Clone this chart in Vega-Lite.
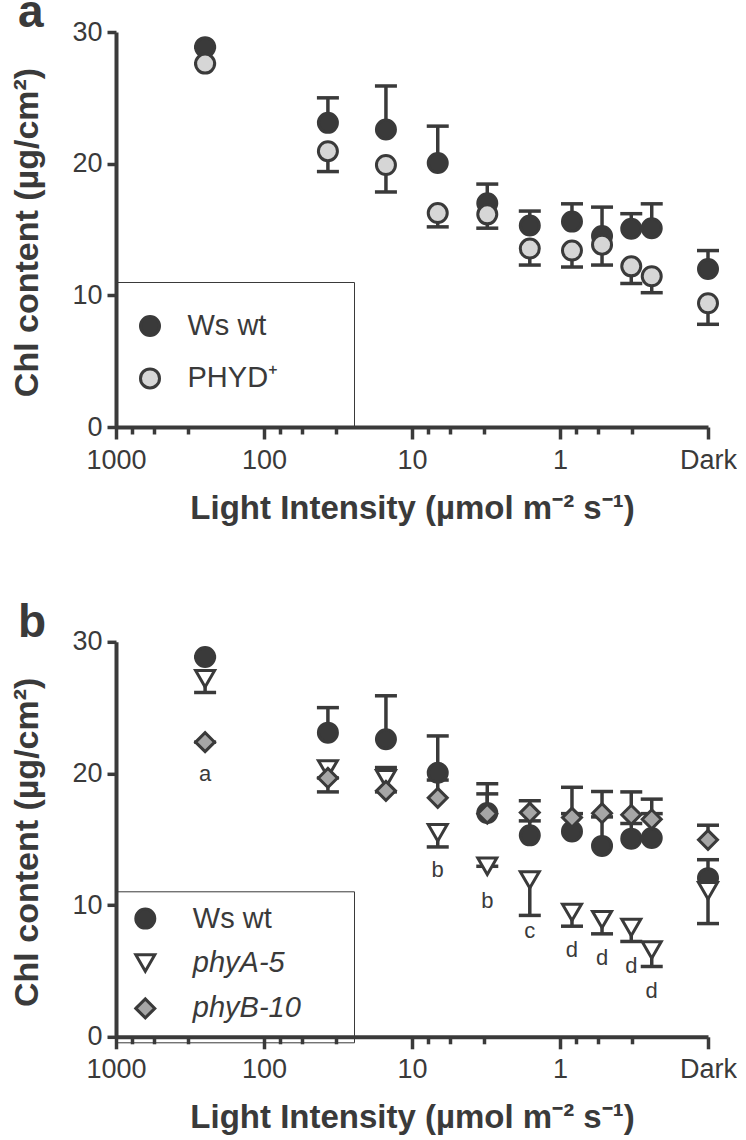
{
  "$schema": "https://vega.github.io/schema/vega-lite/v6.json",
  "background": "white",
  "padding": {"left": 9, "top": -10, "right": 0, "bottom": 0},
  "spacing": 73.8,
  "datasets": {
    "a": [
      {"series": "Ws wt", "intensity": 250, "chl": 28.85, "err_end": 28.85},
      {"series": "Ws wt", "intensity": 37, "chl": 23.1, "err_end": 25.0},
      {"series": "Ws wt", "intensity": 15, "chl": 22.6, "err_end": 25.9},
      {"series": "Ws wt", "intensity": 6.7, "chl": 20.05, "err_end": 22.85},
      {"series": "Ws wt", "intensity": 3.1, "chl": 17.0, "err_end": 18.45},
      {"series": "Ws wt", "intensity": 1.6, "chl": 15.3, "err_end": 16.4},
      {"series": "Ws wt", "intensity": 0.83, "chl": 15.6, "err_end": 16.95},
      {"series": "Ws wt", "intensity": 0.52, "chl": 14.5, "err_end": 16.7},
      {"series": "Ws wt", "intensity": 0.33, "chl": 15.05, "err_end": 16.2},
      {"series": "Ws wt", "intensity": 0.24, "chl": 15.1, "err_end": 16.95},
      {"series": "Ws wt", "intensity": 0.1, "chl": 12.0, "err_end": 13.4},
      {"series": "PHYD⁺", "intensity": 250, "chl": 27.6, "err_end": 27.6},
      {"series": "PHYD⁺", "intensity": 37, "chl": 20.95, "err_end": 19.4},
      {"series": "PHYD⁺", "intensity": 15, "chl": 19.9, "err_end": 17.85},
      {"series": "PHYD⁺", "intensity": 6.7, "chl": 16.25, "err_end": 15.2},
      {"series": "PHYD⁺", "intensity": 3.1, "chl": 16.15, "err_end": 15.1},
      {"series": "PHYD⁺", "intensity": 1.6, "chl": 13.55, "err_end": 12.3},
      {"series": "PHYD⁺", "intensity": 0.83, "chl": 13.4, "err_end": 12.15},
      {"series": "PHYD⁺", "intensity": 0.52, "chl": 13.85, "err_end": 12.3},
      {"series": "PHYD⁺", "intensity": 0.33, "chl": 12.2, "err_end": 10.9},
      {"series": "PHYD⁺", "intensity": 0.24, "chl": 11.45, "err_end": 10.2},
      {"series": "PHYD⁺", "intensity": 0.1, "chl": 9.4, "err_end": 7.8}
    ],
    "b": [
      {"series": "Ws wt", "intensity": 250, "chl": 28.85, "err_end": 28.85},
      {"series": "Ws wt", "intensity": 37, "chl": 23.1, "err_end": 25.0},
      {"series": "Ws wt", "intensity": 15, "chl": 22.6, "err_end": 25.9},
      {"series": "Ws wt", "intensity": 6.7, "chl": 20.05, "err_end": 22.85},
      {"series": "Ws wt", "intensity": 3.1, "chl": 17.0, "err_end": 18.45},
      {"series": "Ws wt", "intensity": 1.6, "chl": 15.3, "err_end": 16.4},
      {"series": "Ws wt", "intensity": 0.83, "chl": 15.6, "err_end": 16.95},
      {"series": "Ws wt", "intensity": 0.52, "chl": 14.5, "err_end": 16.7},
      {"series": "Ws wt", "intensity": 0.33, "chl": 15.05, "err_end": 16.2},
      {"series": "Ws wt", "intensity": 0.24, "chl": 15.1, "err_end": 16.95},
      {"series": "Ws wt", "intensity": 0.1, "chl": 12.05, "err_end": 13.45},
      {"series": "phyA-5", "intensity": 250, "chl": 27.2, "err_end": 26.15},
      {"series": "phyA-5", "intensity": 37, "chl": 20.35, "err_end": 18.6},
      {"series": "phyA-5", "intensity": 15, "chl": 19.6, "err_end": 18.6},
      {"series": "phyA-5", "intensity": 6.7, "chl": 15.5, "err_end": 14.42},
      {"series": "phyA-5", "intensity": 3.1, "chl": 12.95, "err_end": 12.95},
      {"series": "phyA-5", "intensity": 1.6, "chl": 11.92, "err_end": 9.22},
      {"series": "phyA-5", "intensity": 0.83, "chl": 9.45, "err_end": 8.4},
      {"series": "phyA-5", "intensity": 0.52, "chl": 8.9, "err_end": 7.82},
      {"series": "phyA-5", "intensity": 0.33, "chl": 8.3, "err_end": 7.24},
      {"series": "phyA-5", "intensity": 0.24, "chl": 6.6, "err_end": 5.34},
      {"series": "phyA-5", "intensity": 0.1, "chl": 11.1, "err_end": 8.6},
      {"series": "phyB-10", "intensity": 250, "chl": 22.38, "err_end": 22.38},
      {"series": "phyB-10", "intensity": 37, "chl": 19.66, "err_end": 19.66},
      {"series": "phyB-10", "intensity": 15, "chl": 18.68, "err_end": 20.45},
      {"series": "phyB-10", "intensity": 6.7, "chl": 18.15, "err_end": 19.5},
      {"series": "phyB-10", "intensity": 3.1, "chl": 16.95, "err_end": 19.22},
      {"series": "phyB-10", "intensity": 1.6, "chl": 17.03, "err_end": 17.93},
      {"series": "phyB-10", "intensity": 0.83, "chl": 16.65, "err_end": 18.95},
      {"series": "phyB-10", "intensity": 0.52, "chl": 16.98, "err_end": 18.63},
      {"series": "phyB-10", "intensity": 0.33, "chl": 16.86, "err_end": 18.6},
      {"series": "phyB-10", "intensity": 0.24, "chl": 16.52, "err_end": 18.05},
      {"series": "phyB-10", "intensity": 0.1, "chl": 14.96, "err_end": 16.07}
    ],
    "letters": [
      {"intensity": 250, "letter_y": 19.4, "letter": "a"},
      {"intensity": 6.7, "letter_y": 12.17, "letter": "b"},
      {"intensity": 3.1, "letter_y": 9.8, "letter": "b"},
      {"intensity": 1.6, "letter_y": 7.52, "letter": "c"},
      {"intensity": 0.83, "letter_y": 6.05, "letter": "d"},
      {"intensity": 0.52, "letter_y": 5.45, "letter": "d"},
      {"intensity": 0.33, "letter_y": 4.85, "letter": "d"},
      {"intensity": 0.24, "letter_y": 2.98, "letter": "d"}
    ]
  },
  "config": {
    "view": {"stroke": null},
    "font": "Liberation Sans",
    "axis": {
      "grid": false,
      "domainColor": "#3a3a3a",
      "tickColor": "#3a3a3a",
      "labelColor": "#3a3a3a",
      "titleColor": "#3a3a3a",
      "labelFont": "Liberation Sans",
      "titleFont": "Liberation Sans",
      "labelFontSize": 27,
      "domainWidth": 4,
      "tickWidth": 3.5
    },
    "legend": {
      "labelFont": "Liberation Sans",
      "labelFontSize": 29,
      "labelColor": "#3a3a3a",
      "symbolOpacity": 1,
      "strokeColor": "#3a3a3a",
      "labelLimit": 400,
      "titleFontSize": 3,
      "titlePadding": 2,
      "titleOrient": "bottom"
    }
  },
  "resolve": {"scale": {"shape": "independent", "fill": "independent", "size": "independent", "stroke": "independent"}},
  "vconcat": [
    {
      "width": 592,
      "height": 395,
      "title": {"text": "a", "anchor": "start", "frame": "group", "fontSize": 46, "fontWeight": "bold", "color": "#3a3a3a", "baseline": "alphabetic", "dx": -98, "dy": 55, "offset": 0},
      "data": {"name": "a"},
      "encoding": {
        "x": {
          "field": "intensity", "type": "quantitative",
          "scale": {"type": "log", "domain": [0.1, 1000], "reverse": true, "nice": false},
          "axis": {
            "values": [1000, 775, 550, 325, 100, 77.5, 55, 32.5, 10, 7.75, 5.5, 3.25, 1, 0.775, 0.55, 0.325, 0.1],
            "labelExpr": "datum.value == 1000 ? '1000' : datum.value == 100 ? '100' : datum.value == 10 ? '10' : datum.value == 1 ? '1' : datum.value == 0.1 ? 'Dark' : ''",
            "tickSize": {"condition": {"test": "indexof([1000, 100, 10, 1, 0.1], datum.value) >= 0", "value": 12}, "value": 7},
            "labelPadding": 8, "labelBaseline": "top", "labelFlush": false, "labelOverlap": false, "labelBound": false,
            "title": "Light Intensity (µmol m⁻² s⁻¹)", "titleFontSize": 33, "titleFontWeight": "bold", "titleY": 91, "titleBaseline": "alphabetic"
          }
        }
      },
      "layer": [
        {
          "mark": {"type": "rule", "strokeWidth": 3.5, "color": "#3a3a3a"},
          "encoding": {
            "y": {"field": "chl", "type": "quantitative", "title": "Chl content (µg/cm²)", "scale": {"domain": [0, 30], "nice": false}},
            "y2": {"field": "err_end"}
          }
        },
        {
          "mark": {"type": "tick", "orient": "horizontal", "thickness": 3.5, "size": 22, "color": "#3a3a3a", "opacity": 1},
          "encoding": {
            "y": {"field": "err_end", "type": "quantitative", "title": "Chl content (µg/cm²)"}
          }
        },
        {
          "mark": {"type": "point", "filled": true, "opacity": 1, "strokeWidth": 3},
          "encoding": {
            "y": {
              "field": "chl", "type": "quantitative", "title": "Chl content (µg/cm²)",
              "axis": {"values": [0, 10, 20, 30], "tickSize": 9, "labelPadding": 5, "titleFontSize": 34, "titleFontWeight": "bold", "titleX": -79, "titleY": 200, "titleAngle": 270, "titleBaseline": "alphabetic", "titleAlign": "center"}
            },
            "shape": {"field": "series", "type": "nominal", "scale": {"domain": ["Ws wt", "PHYD⁺"], "range": ["circle", "circle"]},
              "legend": {"orient": "none", "legendX": 0, "legendY": 250, "title": "\u00a0", "padding": 29.5, "rowPadding": 21.4, "labelOffset": 23, "symbolOffset": -10, "symbolStrokeWidth": 3, "labelExpr": "datum.label + '\u00a0\u00a0\u00a0\u00a0\u00a0\u2009\u200b'"}},
            "fill": {"field": "series", "type": "nominal", "scale": {"domain": ["Ws wt", "PHYD⁺"], "range": ["#3a3a3a", "#d6d6d6"]},
              "legend": {"orient": "none", "legendX": 0, "legendY": 250, "title": "\u00a0", "padding": 29.5, "rowPadding": 21.4, "labelOffset": 23, "symbolOffset": -10, "symbolStrokeWidth": 3, "labelExpr": "datum.label + '\u00a0\u00a0\u00a0\u00a0\u00a0\u2009\u200b'"}},
            "stroke": {"field": "series", "type": "nominal", "scale": {"domain": ["Ws wt", "PHYD⁺"], "range": ["#3a3a3a", "#3a3a3a"]},
              "legend": {"orient": "none", "legendX": 0, "legendY": 250, "title": "\u00a0", "padding": 29.5, "rowPadding": 21.4, "labelOffset": 23, "symbolOffset": -10, "symbolStrokeWidth": 3, "labelExpr": "datum.label + '\u00a0\u00a0\u00a0\u00a0\u00a0\u2009\u200b'"}},
            "size": {"field": "series", "type": "nominal", "scale": {"domain": ["Ws wt", "PHYD⁺"], "range": [361, 361]},
              "legend": {"orient": "none", "legendX": 0, "legendY": 250, "title": "\u00a0", "padding": 29.5, "rowPadding": 21.4, "labelOffset": 23, "symbolOffset": -10, "symbolStrokeWidth": 3, "labelExpr": "datum.label + '\u00a0\u00a0\u00a0\u00a0\u00a0\u2009\u200b'"}}
          }
        }
      ]
    },
    {
      "width": 592,
      "height": 395,
      "title": {"text": "b", "anchor": "start", "frame": "group", "fontSize": 46, "fontWeight": "bold", "color": "#3a3a3a", "baseline": "alphabetic", "dx": -98, "dy": 54.8, "offset": 0},
      "data": {"name": "b"},
      "encoding": {
        "x": {
          "field": "intensity", "type": "quantitative",
          "scale": {"type": "log", "domain": [0.1, 1000], "reverse": true, "nice": false},
          "axis": {
            "values": [1000, 775, 550, 325, 100, 77.5, 55, 32.5, 10, 7.75, 5.5, 3.25, 1, 0.775, 0.55, 0.325, 0.1],
            "labelExpr": "datum.value == 1000 ? '1000' : datum.value == 100 ? '100' : datum.value == 10 ? '10' : datum.value == 1 ? '1' : datum.value == 0.1 ? 'Dark' : ''",
            "tickSize": {"condition": {"test": "indexof([1000, 100, 10, 1, 0.1], datum.value) >= 0", "value": 12}, "value": 7},
            "labelPadding": 8, "labelBaseline": "top", "labelFlush": false, "labelOverlap": false, "labelBound": false,
            "title": "Light Intensity (µmol m⁻² s⁻¹)", "titleFontSize": 33, "titleFontWeight": "bold", "titleY": 91, "titleBaseline": "alphabetic"
          }
        }
      },
      "layer": [
        {
          "mark": {"type": "rule", "strokeWidth": 3.5, "color": "#3a3a3a"},
          "encoding": {
            "y": {"field": "chl", "type": "quantitative", "title": "Chl content (µg/cm²)", "scale": {"domain": [0, 30], "nice": false}},
            "y2": {"field": "err_end"}
          }
        },
        {
          "mark": {"type": "tick", "orient": "horizontal", "thickness": 3.5, "size": 22, "color": "#3a3a3a", "opacity": 1},
          "encoding": {
            "y": {"field": "err_end", "type": "quantitative", "title": "Chl content (µg/cm²)"}
          }
        },
        {
          "mark": {"type": "point", "filled": true, "opacity": 1, "strokeWidth": 3},
          "encoding": {
            "y": {
              "field": "chl", "type": "quantitative", "title": "Chl content (µg/cm²)",
              "axis": {"values": [0, 10, 20, 30], "tickSize": 9, "labelPadding": 5, "titleFontSize": 34, "titleFontWeight": "bold", "titleX": -79, "titleY": 200, "titleAngle": 270, "titleBaseline": "alphabetic", "titleAlign": "center"}
            },
            "shape": {"field": "series", "type": "nominal", "scale": {"domain": ["Ws wt", "phyA-5", "phyB-10"], "range": ["circle", "triangle-down", "diamond"]},
              "legend": {"orient": "none", "legendX": 0, "legendY": 249.5, "title": "\u00a0", "padding": 12.8, "rowPadding": 14.4, "labelOffset": 33, "symbolOffset": 2, "symbolStrokeWidth": 3, "labelExpr": "datum.label + '\u00a0\u00a0\u00a0\u00a0\u00a0\u200b'", "labelFontStyle": {"expr": "datum.label == 'Ws wt' ? 'normal' : 'italic'"}}},
            "fill": {"field": "series", "type": "nominal", "scale": {"domain": ["Ws wt", "phyA-5", "phyB-10"], "range": ["#3a3a3a", "#ffffff", "#a6a6a6"]},
              "legend": {"orient": "none", "legendX": 0, "legendY": 249.5, "title": "\u00a0", "padding": 12.8, "rowPadding": 14.4, "labelOffset": 33, "symbolOffset": 2, "symbolStrokeWidth": 3, "labelExpr": "datum.label + '\u00a0\u00a0\u00a0\u00a0\u00a0\u200b'", "labelFontStyle": {"expr": "datum.label == 'Ws wt' ? 'normal' : 'italic'"}}},
            "stroke": {"field": "series", "type": "nominal", "scale": {"domain": ["Ws wt", "phyA-5", "phyB-10"], "range": ["#3a3a3a", "#3a3a3a", "#3a3a3a"]},
              "legend": {"orient": "none", "legendX": 0, "legendY": 249.5, "title": "\u00a0", "padding": 12.8, "rowPadding": 14.4, "labelOffset": 33, "symbolOffset": 2, "symbolStrokeWidth": 3, "labelExpr": "datum.label + '\u00a0\u00a0\u00a0\u00a0\u00a0\u200b'", "labelFontStyle": {"expr": "datum.label == 'Ws wt' ? 'normal' : 'italic'"}}},
            "size": {"field": "series", "type": "nominal", "scale": {"domain": ["Ws wt", "phyA-5", "phyB-10"], "range": [361, 361, 576]},
              "legend": {"orient": "none", "legendX": 0, "legendY": 249.5, "title": "\u00a0", "padding": 12.8, "rowPadding": 14.4, "labelOffset": 33, "symbolOffset": 2, "symbolStrokeWidth": 3, "labelExpr": "datum.label + '\u00a0\u00a0\u00a0\u00a0\u00a0\u200b'", "labelFontStyle": {"expr": "datum.label == 'Ws wt' ? 'normal' : 'italic'"}}}
          }
        },
        {
          "data": {"name": "letters"},
          "mark": {"type": "text", "fontSize": 22, "color": "#3a3a3a", "baseline": "alphabetic", "align": "center", "font": "Liberation Sans"},
          "encoding": {
            "y": {"field": "letter_y", "type": "quantitative", "title": "Chl content (µg/cm²)"},
            "text": {"field": "letter"}
          }
        }
      ]
    }
  ]
}
